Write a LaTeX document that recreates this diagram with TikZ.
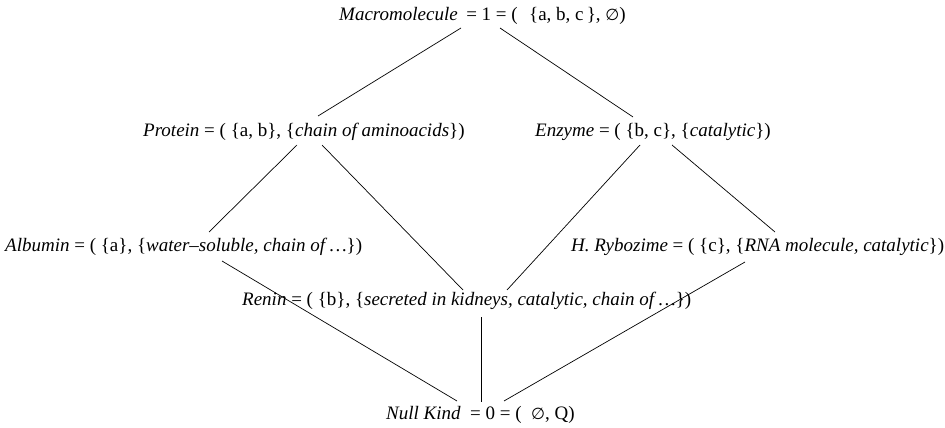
\documentclass[tikz,border=0pt]{standalone}
\usepackage{fontspec}
\setmainfont{Liberation Serif}
\newfontfamily\symfont{DejaVu Sans}
\newcommand{\es}{{\symfont\fontsize{16}{18}\selectfont ∅}}
\begin{document}
\begin{tikzpicture}[x=1pt,y=-1pt,
  lbl/.style={anchor=base west,inner sep=0pt,font=\fontsize{19}{21}\selectfont},
  edge/.style={draw=black,line width=0.7pt}]
\useasboundingbox (0,0) rectangle (945,428);
\node[lbl] (mac) at (339,21) {\textit{Macromolecule}\hspace{0.45em}= 1 = (\hspace{0.6em}\{a, b, c\,\}, \es)};
\node[lbl] (pro) at (143,136) {\textit{Protein} = ( \{a, b\}, \{\textit{chain of aminoacids}\})};
\node[lbl] (enz) at (535,136) {\textit{Enzyme} = ( \{b, c\}, \{\textit{catalytic}\})};
\node[lbl] (alb) at (5,251) {\textit{Albumin} = ( \{a\}, \{\textit{water–soluble, chain of \ldots}\})};
\node[lbl] (ryb) at (571,251) {\textit{H. Rybozime} = ( \{c\}, \{\textit{RNA molecule, catalytic}\})};
\node[lbl] (ren) at (242,305) {\textit{Renin} = ( \{b\}, \{\textit{secreted in kidneys, catalytic, chain of \ldots}\})};
\node[lbl] (nul) at (386,419) {\textit{Null Kind}\hspace{0.5em}= 0 = (\hspace{0.5em}\es, Q)};
% connector end points
\coordinate (m1) at (461,28);  \coordinate (m2) at (500,28);
\coordinate (p0) at (318,116); \coordinate (e0) at (633,117);
\coordinate (p1) at (297,145); \coordinate (p2) at (322,145);
\coordinate (e1) at (640,145); \coordinate (e2) at (672,145);
\coordinate (a0) at (209,232); \coordinate (r0) at (775,232);
\coordinate (rn0) at (463,290); \coordinate (rn1) at (507,290);
\coordinate (a1) at (222,261); \coordinate (r1) at (745,262);
\coordinate (rn2) at (481,317);
\coordinate (n1) at (457,401); \coordinate (n2) at (481,402); \coordinate (n3) at (504,401);
\draw[edge] (m1) -- (p0);
\draw[edge] (m2) -- (e0);
\draw[edge] (p1) -- (a0);
\draw[edge] (p2) -- (rn0);
\draw[edge] (e1) -- (rn1);
\draw[edge] (e2) -- (r0);
\draw[edge] (a1) -- (n1);
\draw[edge] (rn2) -- (n2);
\draw[edge] (r1) -- (n3);
\end{tikzpicture}
\end{document}
